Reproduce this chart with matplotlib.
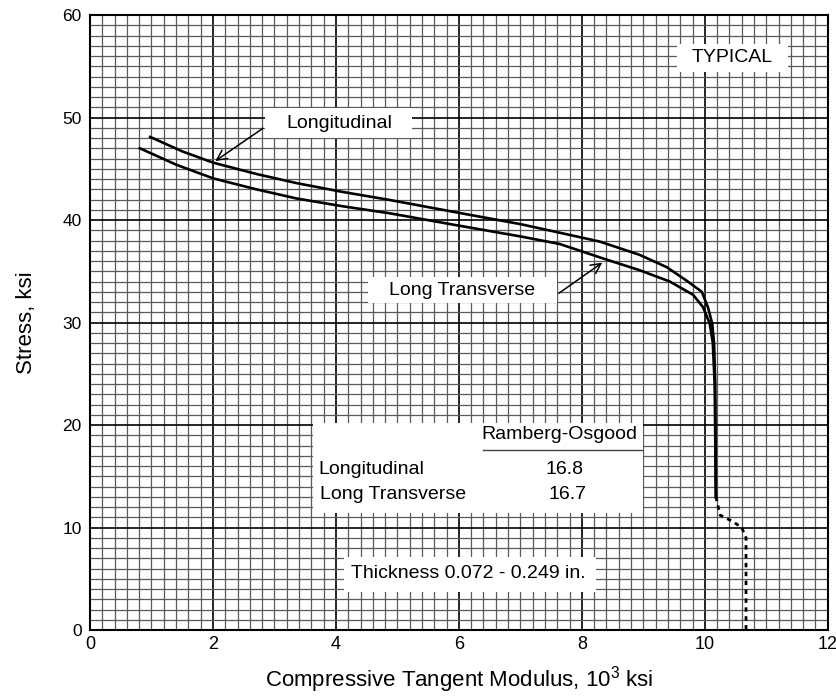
import matplotlib
matplotlib.use("Agg")
import matplotlib.pyplot as plt
from matplotlib.patches import Rectangle
from matplotlib.ticker import MultipleLocator
from matplotlib import font_manager

names = {f.name for f in font_manager.fontManager.ttflist}
narrow = 'Liberation Sans Narrow' if 'Liberation Sans Narrow' in names else 'Liberation Sans'
plt.rcParams['font.family'] = ['Liberation Sans', 'DejaVu Sans']
plt.rcParams['mathtext.default'] = 'regular'

# Data
long_x = [0.98, 1.5, 2.0, 2.7, 3.36, 4.1, 4.88, 6.0, 7.0, 7.64, 8.29, 8.94, 9.38, 9.70, 9.95, 10.05, 10.12, 10.15, 10.17, 10.18]
long_y = [48.1, 46.7, 45.6, 44.5, 43.6, 42.75, 41.95, 40.7, 39.6, 38.76, 37.9, 36.6, 35.4, 34.1, 33.0, 31.5, 29.9, 28.0, 24.0, 13.0]
trans_x = [0.81, 1.4, 2.0, 2.7, 3.36, 4.1, 4.88, 6.0, 7.0, 7.64, 8.37, 8.94, 9.43, 9.81, 9.97, 10.08, 10.13, 10.16, 10.18]
trans_y = [47.0, 45.4, 44.07, 43.0, 42.1, 41.35, 40.65, 39.45, 38.4, 37.66, 36.2, 35.1, 34.0, 32.7, 31.5, 29.9, 28.0, 24.0, 13.0]
dash_x = [10.18, 10.25, 10.45, 10.6, 10.67, 10.67]
dash_y = [13.0, 11.2, 10.6, 10.0, 9.0, 0.0]
xticks = [0, 2, 4, 6, 8, 10, 12]
yticks = [0, 10, 20, 30, 40, 50, 60]
ro_names = ["Longitudinal", "Long Transverse"]
ro_values = ["16.8", "16.7"]

fig = plt.figure(figsize=(8.37, 6.98), dpi=100)
ax = fig.add_axes([0.1075, 0.0974, 0.8815, 0.8811])
ax.set_xlim(0, 12)
ax.set_ylim(0, 60)
ax.set_xticks(xticks)
ax.set_yticks(yticks)
ax.xaxis.set_minor_locator(MultipleLocator(0.2))
ax.yaxis.set_minor_locator(MultipleLocator(1))
ax.grid(which='minor', color='#5a5a5a', linewidth=0.9)
ax.grid(which='major', color='black', linewidth=1.2)
ax.set_axisbelow(True)
ax.tick_params(which='both', length=0)
ax.tick_params(axis='x', pad=4)
ax.tick_params(axis='y', pad=6)
for lab in ax.get_xticklabels():
    lab.set_fontfamily(narrow); lab.set_fontsize(13)
for lab in ax.get_yticklabels():
    lab.set_fontsize(12.5)
for s in ax.spines.values():
    s.set_linewidth(1.5)

ax.plot(long_x, long_y, color='black', lw=1.9, zorder=3)
ax.plot(trans_x, trans_y, color='black', lw=1.9, zorder=3)
ax.plot(dash_x, dash_y, color='black', lw=2.0, linestyle=(0, (1.6, 1.6)), zorder=3)

ax.set_xlabel('Compressive Tangent Modulus, 10$^3$ ksi', fontfamily=narrow, fontsize=16, labelpad=8)
ax.set_ylabel('Stress, ksi', fontfamily=narrow, fontsize=16, labelpad=18)

def wbox(x0, y0, x1, y1):
    ax.add_patch(Rectangle((x0, y0), x1 - x0, y1 - y0, facecolor='white', edgecolor='none', zorder=2.5))

FS = 14

# TYPICAL
wbox(9.54, 54.4, 11.35, 57.2)
ax.text(10.44, 55.85, 'TYPICAL', ha='center', va='center', fontsize=FS, zorder=4)

# Longitudinal label
wbox(2.85, 48.0, 5.24, 50.9)
ax.text(4.05, 49.4, 'Longitudinal', ha='center', va='center', fontsize=FS, zorder=4)
ax.annotate('', xy=(2.0, 45.6), xytext=(2.85, 49.1),
            arrowprops=dict(arrowstyle='->', color='black', lw=1.1, mutation_scale=18), zorder=4)

# Long Transverse label
wbox(4.52, 31.9, 7.59, 34.4)
ax.text(6.05, 33.15, 'Long Transverse', ha='center', va='center', fontsize=FS, zorder=4)
ax.annotate('', xy=(8.37, 36.0), xytext=(7.59, 32.7),
            arrowprops=dict(arrowstyle='->', color='black', lw=1.1, mutation_scale=18), zorder=4)

# Ramberg-Osgood table
wbox(3.63, 11.4, 8.99, 20.2)
ax.text(7.63, 19.1, 'Ramberg-Osgood', ha='center', va='center', fontsize=FS, zorder=4)
ax.plot([6.4, 8.98], [17.6, 17.6], color='#444444', lw=1.0, zorder=4)
ax.text(3.71, 15.7, ro_names[0], ha='left', va='center', fontsize=FS, zorder=4)
ax.text(7.72, 15.7, ro_values[0], ha='center', va='center', fontsize=FS, zorder=4)
ax.text(3.74, 13.2, ro_names[1], ha='left', va='center', fontsize=FS, zorder=4)
ax.text(7.76, 13.2, ro_values[1], ha='center', va='center', fontsize=FS, zorder=4)

# Thickness
wbox(4.13, 3.7, 8.23, 7.1)
ax.text(6.15, 5.5, 'Thickness 0.072 - 0.249 in.', ha='center', va='center', fontsize=FS, zorder=4)

fig.savefig('out.png', dpi=100)
